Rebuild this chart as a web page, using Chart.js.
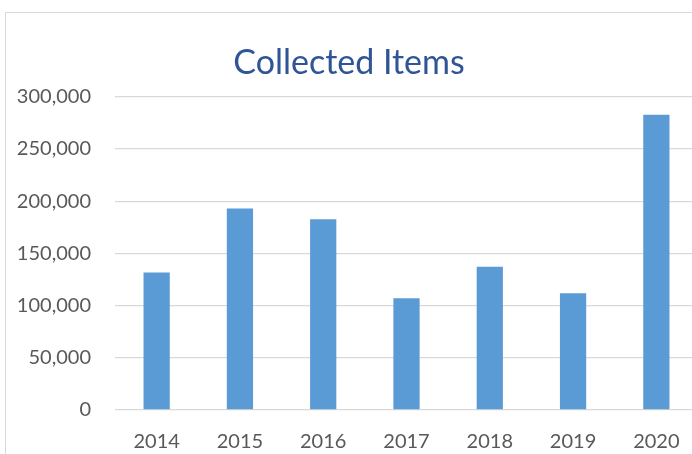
<!DOCTYPE html>
<html>
<head>
<meta charset="utf-8">
<script src="https://cdn.jsdelivr.net/npm/chart.js"></script>
<style>
  html, body { margin: 0; padding: 0; background: #fff; overflow: hidden; width: 692px; height: 454px; }
  #frame { position: absolute; left: 5px; top: 12px; width: 800px; height: 600px; border: 1px solid #d9d9d9; }
  #chart { position: absolute; left: 0; top: 0; }
</style>
</head>
<body>
<div id="frame"></div>
<canvas id="chart" width="712" height="470"></canvas>
<script>
// Collected items per year
const years = ['2014', '2015', '2016', '2017', '2018', '2019', '2020'];
const collected = [131800, 193000, 182800, 107000, 137200, 111800, 282900];
const yTicks = [0, 50000, 100000, 150000, 200000, 250000, 300000];

const ctx = document.getElementById('chart').getContext('2d');
const chart = new Chart(ctx, {
    type: 'bar',
    data: {
        labels: years,
        datasets: [{
            label: 'Collected Items',
            data: collected,
            backgroundColor: '#5B9BD5',
            borderWidth: 0,
            categoryPercentage: 1,
            barPercentage: 0.315
        }]
    },
    options: {
        responsive: false,
        animation: false,
        devicePixelRatio: 1,
        layout: { padding: { left: 0, right: 14, top: 0, bottom: 0 } },
        plugins: {
            legend: { display: false },
            tooltip: { enabled: false },
            title: {
                display: true,
                text: 'Collected Items',
                color: '#2F5597',
                font: { family: 'Lato', size: 34, weight: 'normal' },
                padding: { top: 43, bottom: 13 }
            }
        },
        scales: {
            x: {
                grid: { display: false },
                border: { display: false },
                ticks: {
                    color: '#595959',
                    font: { family: 'Lato', size: 20 },
                    padding: 12
                },
                afterFit: (s) => { s.height = 60; }
            },
            y: {
                min: yTicks[0],
                max: yTicks[yTicks.length - 1],
                grid: { color: '#d9d9d9', lineWidth: 1.3, drawTicks: false },
                border: { display: false },
                ticks: {
                    stepSize: yTicks[1] - yTicks[0],
                    color: '#595959',
                    font: { family: 'Lato', size: 20 },
                    padding: 24,
                    callback: (v) => v.toLocaleString('en-US')
                },
                afterFit: (s) => { s.width = 115; }
            }
        }
    }
});
</script>
</body>
</html>
